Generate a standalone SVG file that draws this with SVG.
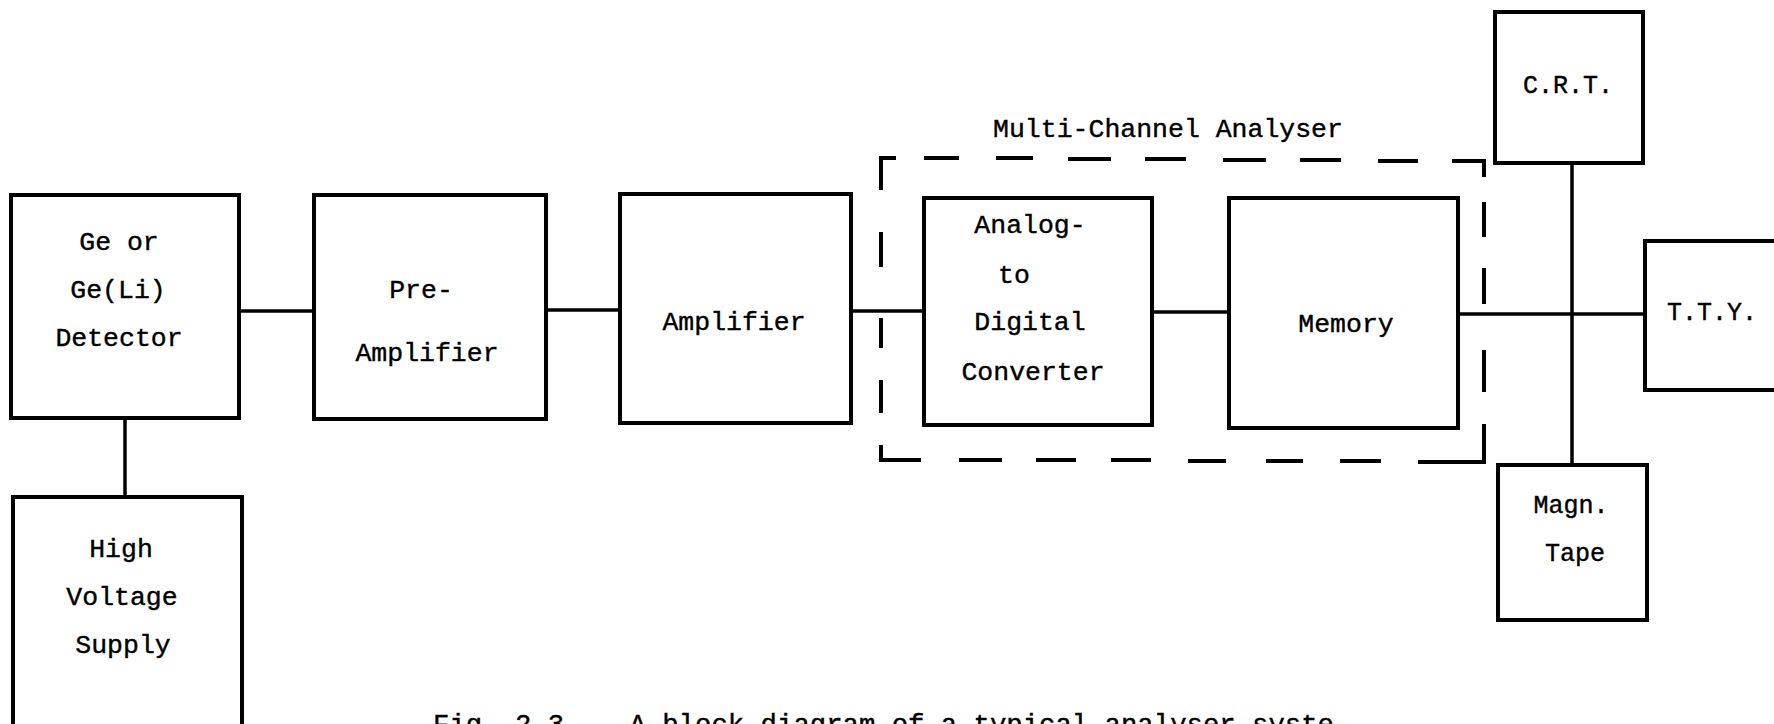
<svg xmlns="http://www.w3.org/2000/svg" width="1774" height="724" viewBox="0 0 1774 724">
<style>
.box{fill:none;stroke:#000;stroke-width:4}
.ln{fill:none;stroke:#000;stroke-width:3.5}
.dash{fill:none;stroke:#000;stroke-width:4}
text{font-family:"Liberation Mono","Courier New",monospace;font-size:26.5px;fill:#000;text-anchor:middle;stroke:#000;stroke-width:0.4}
.cap{font-size:27.3px;text-anchor:start}
</style>
<rect width="1774" height="724" fill="#fff"/>
<g id="connectors">
<line class="ln" x1="239" y1="311" x2="314" y2="311"/>
<line class="ln" x1="546" y1="310" x2="620" y2="310"/>
<line class="ln" x1="851" y1="311" x2="924" y2="311"/>
<line class="ln" x1="1152" y1="312" x2="1229" y2="312"/>
<line class="ln" x1="1458" y1="314" x2="1645" y2="314"/>
<line class="ln" x1="1572" y1="163" x2="1572" y2="465"/>
<line class="ln" x1="125" y1="418" x2="125" y2="497"/>
</g>
<g id="mca">
<path class="dash" d="M896 158 H881 V190 M924 158 H959 M996 158 H1033 M1068 159 H1111 M1145 159 H1186 M1223 160 H1266 M1300 160 H1341 M1378 161 H1418 M1452 161 H1484 V177 M1484 202 V237 M1484 268 V304 M1484 350 V392 M1484 424 V462 H1418 M1381 461 H1340 M1303 461 H1266 M1226 461 H1188 M1151 460 H1111 M1076 460 H1036 M1002 460 H959 M921 460 H881 V445 M881 413 V380 M881 348 V318 M881 267 V232"/>
<text x="1168" y="137">Multi-Channel Analyser</text>
</g>
<g id="detector">
<rect class="box" x="11" y="195" width="228" height="223"/>
<text x="119" y="250">Ge or</text>
<text x="118" y="298">Ge(Li)</text>
<text x="119" y="346">Detector</text>
</g>
<g id="preamp">
<rect class="box" x="314" y="195" width="232" height="224"/>
<text x="421" y="298">Pre-</text>
<text x="427" y="361">Amplifier</text>
</g>
<g id="amplifier">
<rect class="box" x="620" y="194" width="231" height="229"/>
<text x="734" y="330">Amplifier</text>
</g>
<g id="adc">
<rect class="box" x="924" y="198" width="228" height="227"/>
<text x="1030" y="233">Analog-</text>
<text x="1014" y="283">to</text>
<text x="1030" y="330">Digital</text>
<text x="1033" y="380">Converter</text>
</g>
<g id="memory">
<rect class="box" x="1229" y="198" width="229" height="230"/>
<text x="1346" y="332">Memory</text>
</g>
<g id="crt">
<rect class="box" x="1495" y="12" width="148" height="151"/>
<text x="1568" y="93" style="font-size:25px">C.R.T.</text>
</g>
<g id="tty">
<rect class="box" x="1645" y="241" width="140" height="149"/>
<text x="1712" y="320" style="font-size:25px">T.T.Y.</text>
</g>
<g id="tape">
<rect class="box" x="1498" y="465" width="149" height="155"/>
<text x="1571" y="513" style="font-size:25px">Magn.</text>
<text x="1575" y="561" style="font-size:25px">Tape</text>
</g>
<g id="hv">
<rect class="box" x="13" y="497" width="229" height="250"/>
<text x="121" y="557">High</text>
<text x="122" y="605">Voltage</text>
<text x="123" y="653">Supply</text>
</g>
<g id="caption">
<text class="cap" x="433" y="733">Fig. 2.3 -- A block diagram of a typical analyser syste</text>
</g>
</svg>
